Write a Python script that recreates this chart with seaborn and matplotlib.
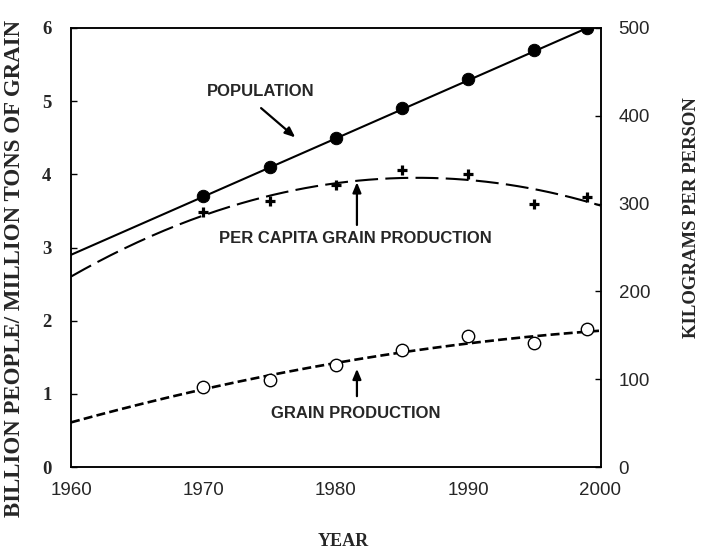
import numpy as np
import pandas as pd
import matplotlib
matplotlib.use("Agg")
import matplotlib.pyplot as plt
import seaborn as sns

# Observed values (left axis units; per-capita also shown on right axis in kg)
years = [1970, 1975, 1980, 1985, 1990, 1995, 1999]
population = [3.7, 4.1, 4.5, 4.9, 5.3, 5.7, 6.0]
per_capita = [3.48, 3.63, 3.85, 4.06, 4.01, 3.59, 3.69]
grain = [1.09, 1.19, 1.39, 1.60, 1.79, 1.69, 1.89]

# Trend lines drawn through the observations
pop_trend_years = [1960, 1999]
pop_trend = [2.90, 6.00]
curve_years = [1960, 1965, 1970, 1975, 1980, 1985, 1990, 1995, 2000]
per_capita_trend = [2.60, 3.07, 3.44, 3.71, 3.88, 3.95, 3.92, 3.79, 3.58]
grain_trend = [0.61, 0.85, 1.06, 1.25, 1.42, 1.57, 1.69, 1.79, 1.86]

x_ticks = [1960, 1970, 1980, 1990, 2000]
left_ticks = [0, 1, 2, 3, 4, 5, 6]
right_ticks = [0, 100, 200, 300, 400, 500]

sns.set_style("white")
SERIF = "Liberation Serif"
SANS = "Liberation Sans"

fig = plt.figure(figsize=(7.16, 5.53), dpi=100)
ax = fig.add_axes([71 / 716, 1 - 467 / 553, (600.5 - 71) / 716, (467 - 28) / 553])


def smooth(xs, ys, deg=2):
    coef = np.polyfit(xs, ys, deg)
    xx = np.linspace(min(xs), max(xs), 200)
    return pd.DataFrame({"x": xx, "y": np.polyval(coef, xx)})


# Population: straight solid line
sns.lineplot(data=pd.DataFrame({"x": pop_trend_years, "y": pop_trend}), x="x", y="y",
             ax=ax, color="black", lw=1.5, legend=False)

# Per-capita production: long dashes
pc = smooth(curve_years, per_capita_trend)
sns.lineplot(data=pc, x="x", y="y", ax=ax, color="black", lw=1.5, legend=False)
ax.lines[-1].set_dashes((11, 3.5))

# Grain production: short dashes
gr = smooth(curve_years, grain_trend)
sns.lineplot(data=gr, x="x", y="y", ax=ax, color="black", lw=1.9, legend=False)
ax.lines[-1].set_dashes((3.4, 1.6))

obs = pd.DataFrame({"year": years, "pop": population, "pc": per_capita, "grain": grain})
sns.scatterplot(data=obs, x="year", y="pop", ax=ax, marker="o", s=80, color="black",
                edgecolor="black", zorder=5, legend=False)
sns.scatterplot(data=obs, x="year", y="pc", ax=ax, marker="+", s=55, color="black",
                linewidth=2.3, zorder=5, legend=False)
sns.scatterplot(data=obs, x="year", y="grain", ax=ax, marker="o", s=80, facecolor="white",
                edgecolor="black", linewidth=1.0, zorder=5, legend=False)

ax.set_xlim(1960, 2000)
ax.set_ylim(0, 6)
ax.set_xticks(x_ticks)
ax.set_yticks(left_ticks)
ax.set_xticklabels([str(v) for v in x_ticks], fontfamily=SANS, fontsize=13.5)
ax.set_yticklabels([str(v) for v in left_ticks], fontfamily=SERIF, fontweight="bold", fontsize=13.5)
ax.tick_params(axis="both", direction="in", length=4, width=1, color="black")
ax.tick_params(axis="x", pad=11)
ax.tick_params(axis="y", pad=14)
ax.set_xlabel("")
ax.set_ylabel("")
for sp in ax.spines.values():
    sp.set_color("black")
    sp.set_linewidth(1.1)

ax2 = ax.twinx()
ax2.set_ylim(0, 500)
ax2.set_yticks(right_ticks)
ax2.set_yticklabels([str(v) for v in right_ticks], fontfamily=SANS, fontsize=13.5)
ax2.tick_params(axis="y", direction="in", length=4, width=1, color="black", pad=13)
ax2.set_ylabel("")
for sp in ax2.spines.values():
    sp.set_color("black")
    sp.set_linewidth(1.1)

# Axis titles
fig.text(343 / 716, 1 - 541 / 553, "YEAR", fontfamily=SERIF, fontweight="bold",
         fontsize=13, ha="center", va="center")
fig.text(15 / 716, 1 - 268 / 553, "BILLION PEOPLE/ MILLION TONS OF GRAIN", fontfamily=SERIF,
         fontweight="bold", fontsize=16.5, rotation=90, ha="center", va="center")
fig.text(692 / 716, 1 - 218 / 553, "KILOGRAMS PER PERSON", fontfamily=SERIF,
         fontweight="bold", fontsize=13.5, rotation=90, ha="center", va="center")

arrow = dict(arrowstyle="-|>,head_length=0.6,head_width=0.25", color="black", lw=1.6)
txt = dict(fontfamily=SANS, fontweight="bold", fontsize=12, ha="center", va="center")
ax.text(1974.3, 5.13, "POPULATION", **txt)
ax.annotate("", xy=(1977.1, 4.48), xytext=(1974.2, 4.93), arrowprops=arrow)
ax.text(1981.5, 3.12, "PER CAPITA GRAIN PRODUCTION", **txt)
ax.annotate("", xy=(1981.6, 3.93), xytext=(1981.6, 3.27), arrowprops=arrow)
ax.text(1981.5, 0.73, "GRAIN PRODUCTION", **txt)
ax.annotate("", xy=(1981.6, 1.38), xytext=(1981.6, 0.93), arrowprops=arrow)

fig.savefig("out.png", dpi=100)
